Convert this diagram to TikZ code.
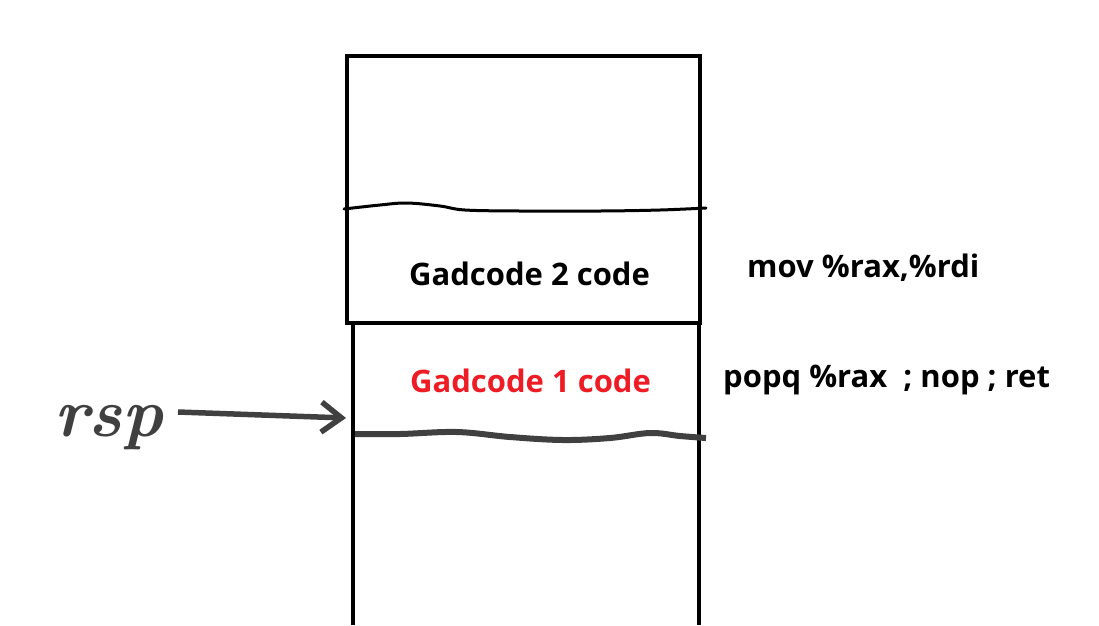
\documentclass[tikz,border=0pt]{standalone}
\usepackage{fontspec}
\setmainfont{Open Sans}
\usetikzlibrary{arrows.meta}
\definecolor{ink}{HTML}{404040}
\definecolor{gred}{HTML}{EE1C25}
\tikzset{
  wall/.style={line width=4.5pt, black},
  lbl/.style={font=\bfseries\fontsize{31}{36}\selectfont, anchor=base west, inner sep=0pt}
}
\newfontfamily\lmfam{Latin Modern Roman}
\begin{document}
\begin{tikzpicture}[x=1pt,y=-1pt]
\useasboundingbox (0,0) rectangle (1099,625);
\fill[white] (0,0) rectangle (1099,625);
% stack
\draw[wall] (347,56) rectangle (700,323);
\draw[wall] (353,323) -- (353,625);
\draw[wall] (699,323) -- (699,625);
% thin wavy separator
\draw[line width=3pt, black, line cap=round] plot[smooth, tension=0.6] coordinates {(344,209) (380,205) (407,203) (440,206) (465,210) (520,211) (600,211) (660,210) (706,208)};
% thick wavy line (rsp)
\draw[line width=6pt, ink] plot[smooth, tension=0.6] coordinates {(355,434) (400,434) (457,432) (510,437) (563,440) (610,438) (650,433) (680,436) (706,438)};
% labels
\node[lbl] (g2) at (409,285) {Gadcode 2 code};
\node[lbl, text=gred] (g1) at (410,392) {Gadcode 1 code};
\node[lbl] (mov) at (747,277) {mov \%rax,\%rdi};
\node[lbl] (popq) at (723,387) {popq \%rax\ \ ; nop ; ret};
% rsp
\node[font=\lmfam\bfseries\itshape\fontsize{69}{78}\selectfont, text=ink, anchor=base west, inner sep=0pt] (rsp) at (54,436) {rsp};
\coordinate (arrowstart) at (178,412);
\coordinate (arrowend) at (346,418);
\draw[line width=5.5pt, ink, -{Straight Barb[length=20pt,width=30pt,line width=5.5pt]}] (arrowstart) -- (arrowend);
\end{tikzpicture}
\end{document}
